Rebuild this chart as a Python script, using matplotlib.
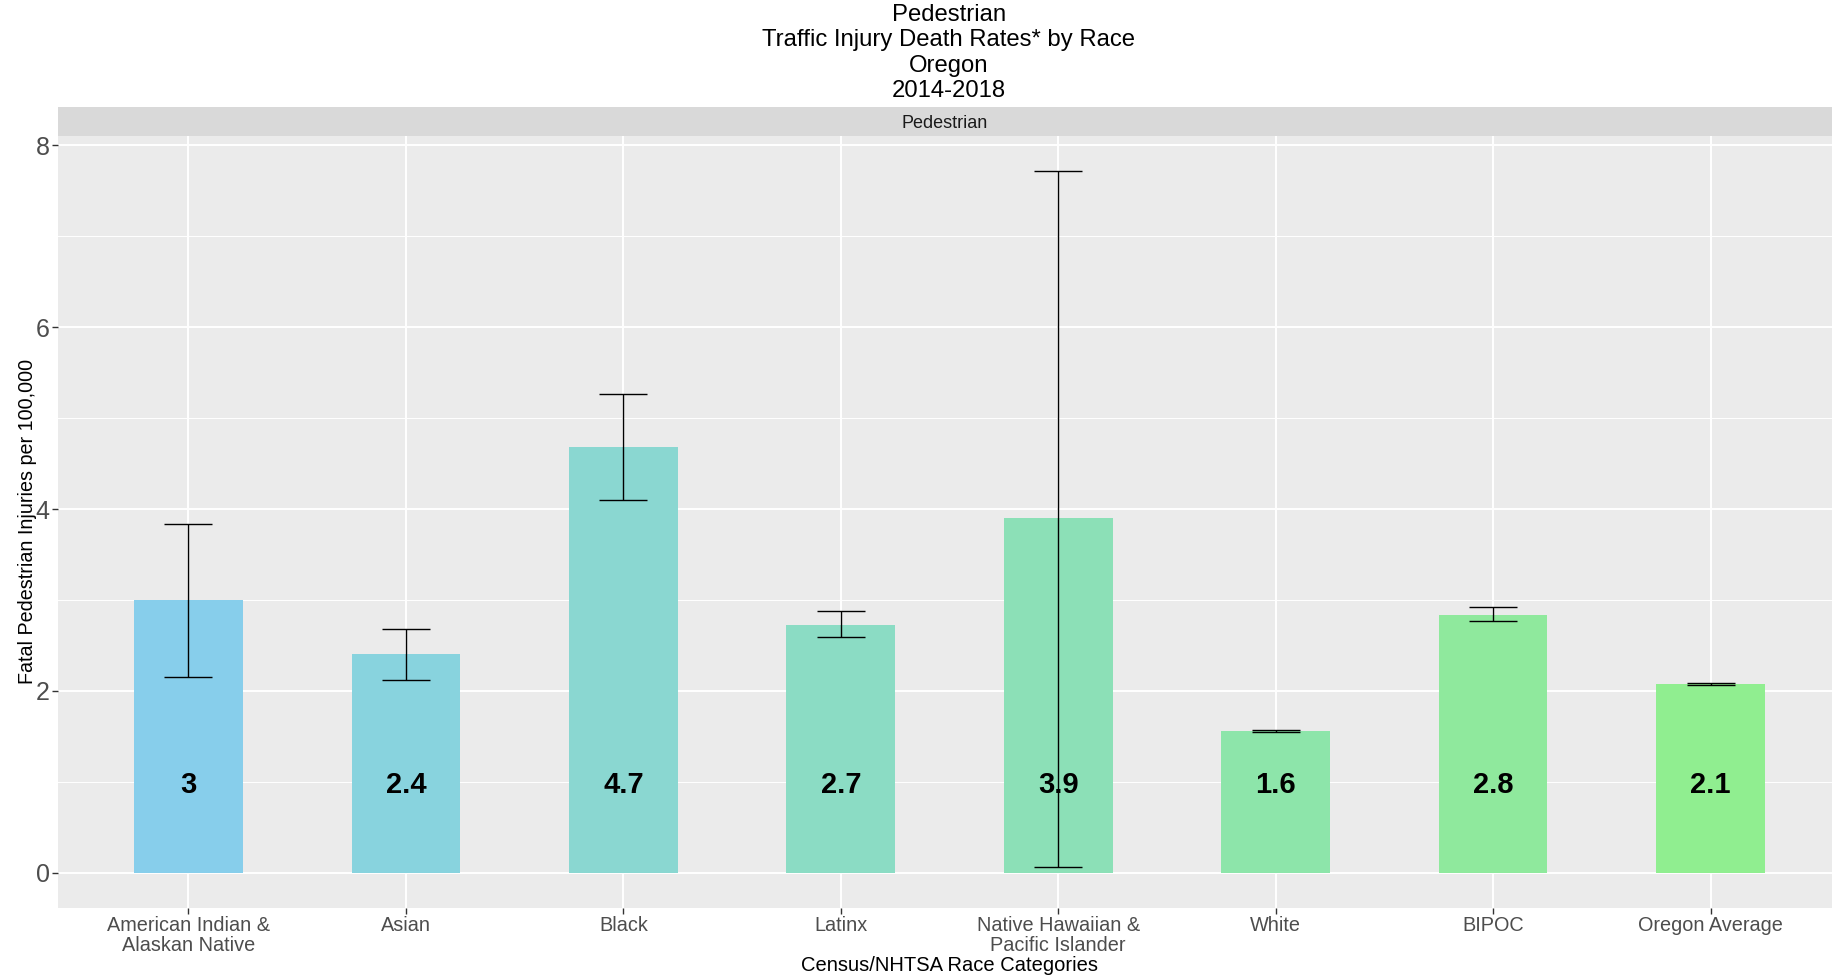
import matplotlib
matplotlib.use("Agg")
import matplotlib.pyplot as plt
from matplotlib.ticker import MultipleLocator

# Pedestrian traffic injury death rates per 100,000, Oregon 2014-2018
categories = ["American Indian &\nAlaskan Native", "Asian", "Black", "Latinx",
              "Native Hawaiian &\nPacific Islander", "White", "BIPOC", "Oregon Average"]
rates = [3.00, 2.41, 4.68, 2.73, 3.90, 1.56, 2.84, 2.08]
ci_low = [2.15, 2.12, 4.10, 2.59, 0.07, 1.55, 2.77, 2.06]
ci_high = [3.84, 2.68, 5.26, 2.88, 7.72, 1.57, 2.92, 2.09]
bar_colors = ["#87CEEB", "#88D3DE", "#8AD7D1", "#8BDCC4",
              "#8CE0B7", "#8DE5AA", "#8FE99D", "#90EE90"]

W, H = 1832, 980
fig = plt.figure(figsize=(W / 100, H / 100), dpi=100)
plt.rcParams["font.family"] = ["Liberation Sans", "DejaVu Sans"]

def box(left, top, right, bottom):
    return [left / W, 1 - bottom / H, (right - left) / W, (bottom - top) / H]

# panel (runs a little past the right edge of the figure)
ax = fig.add_axes(box(58, 135.5, 1841, 908))
ax.set_facecolor("#EBEBEB")
x = list(range(1, len(categories) + 1))

ax.bar(x, rates, width=0.5, color=bar_colors, zorder=2)
yerr = [[r - lo for r, lo in zip(rates, ci_low)], [hi - r for r, hi in zip(rates, ci_high)]]
ax.errorbar(x, rates, yerr=yerr, fmt="none", ecolor="black", elinewidth=1.0,
            capsize=17, capthick=1.0, zorder=3)

for xi, r in zip(x, rates):
    ax.text(xi, 0.97, f"{round(r, 1):g}", ha="center", va="center",
            fontsize=21, fontweight="bold", color="black", zorder=4)

ymax = max(ci_high)
pad = 0.05 * ymax
ax.set_ylim(-pad, ymax + pad)
ax.set_xlim(0.4, len(categories) + 0.6)

ax.yaxis.set_major_locator(MultipleLocator(2))
ax.yaxis.set_minor_locator(MultipleLocator(1))
ax.set_xticks(x)
ax.set_xticklabels(categories, fontsize=14.3, color="#4D4D4D", linespacing=1.02)
ax.tick_params(axis="y", which="major", labelsize=18, labelcolor="#4D4D4D",
               color="#333333", length=4, width=1, pad=2)
ax.tick_params(axis="y", which="minor", length=0)
ax.tick_params(axis="x", color="#333333", length=4, width=1, pad=2)

ax.grid(which="major", color="white", linewidth=1.4, zorder=0)
ax.grid(which="minor", axis="y", color="white", linewidth=0.7, zorder=0)
ax.set_axisbelow(True)
for s in ax.spines.values():
    s.set_visible(False)

ax.set_ylabel("Fatal Pedestrian Injuries per 100,000", fontsize=14.2, color="black", labelpad=-1)
ax.set_xlabel("Census/NHTSA Race Categories", fontsize=14.5, color="black", labelpad=1)

# facet strip
sax = fig.add_axes(box(58, 107.5, 1841, 135.5))
sax.set_facecolor("#D9D9D9")
sax.set_xticks([])
sax.set_yticks([])
for s in sax.spines.values():
    s.set_visible(False)
sax.text((945 - 58) / (1841 - 58), 0.5, "Pedestrian", ha="center",
         va="center_baseline", fontsize=13, color="#1A1A1A", transform=sax.transAxes)

# title
title_lines = ["Pedestrian", "Traffic Injury Death Rates* by Race", "Oregon", "2014-2018"]
fig.text(949 / W, 1 - 4 / H, "\n".join(title_lines), ha="center", va="top",
         fontsize=17.2, color="black", linespacing=1.2)

fig.savefig("out.png", dpi=100, facecolor="white")
